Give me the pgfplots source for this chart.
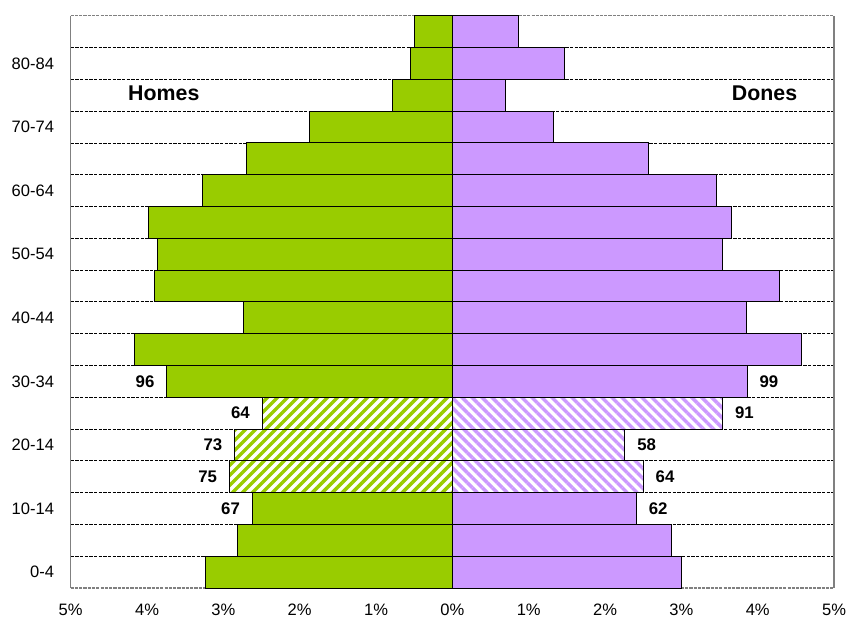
\documentclass[border=0pt]{standalone}
\usepackage{pgfplots}
\pgfplotsset{compat=1.18}
\usepackage{pgfplotstable}
\usepackage{fontspec}
\setmainfont{Liberation Sans}
\usetikzlibrary{patterns.meta}

\definecolor{menc}{HTML}{99CC00}
\definecolor{womc}{HTML}{CC99FF}

% y = age group index (0 = 0-4, ..., 17 = 85+), x = % of population
\pgfplotstableread{
y x lab
0 -3.23 {}
1 -2.81 {}
2 -2.62 67
6 -3.74 96
7 -4.17 {}
8 -2.74 {}
9 -3.90 {}
10 -3.86 {}
11 -3.98 {}
12 -3.27 {}
13 -2.70 {}
14 -1.87 {}
15 -0.79 {}
16 -0.55 {}
17 -0.50 {}
}\menSolid
\pgfplotstableread{
y x lab
3 -2.92 75
4 -2.85 73
5 -2.49 64
}\menHatch
\pgfplotstableread{
y x lab
0 3.00 {}
1 2.87 {}
2 2.41 62
6 3.86 99
7 4.57 {}
8 3.85 {}
9 4.28 {}
10 3.54 {}
11 3.65 {}
12 3.46 {}
13 2.57 {}
14 1.33 {}
15 0.69 {}
16 1.47 {}
17 0.86 {}
}\womSolid
\pgfplotstableread{
y x lab
3 2.50 64
4 2.26 58
5 3.54 91
}\womHatch

\begin{document}
\begin{tikzpicture}
\path[use as bounding box] (-53pt,-27.75pt) rectangle (582.2pt,441pt);
\begin{axis}[
    at={(0,0)}, anchor=south west,
    scale only axis,
    width=572.5pt, height=429.2pt,
    xmin=-5, xmax=5, ymin=-0.5, ymax=17.5,
    xtick={-5,...,5},
    xticklabels={5\%,4\%,3\%,2\%,1\%,0\%,1\%,2\%,3\%,4\%,5\%},
    ytick={0,2,...,16},
    yticklabels={0-4,10-14,20-14,30-34,40-44,50-54,60-64,70-74,80-84},
    minor ytick={0.5,1.5,...,16.5},
    yminorgrids=true,
    minor grid style={black, line width=0.6pt, dash pattern=on 2.4pt off 1.1pt},
    major tick length=0pt, minor tick length=0pt,
    separate axis lines,
    x axis line style={gray, line width=0.9pt, dash pattern=on 2.4pt off 0.8pt},
    y axis line style={gray, line width=0.9pt},
    tick label style={font=\fontsize{12.4}{14}\selectfont},
    xticklabel style={yshift=-8.5pt},
    yticklabel style={xshift=-9pt},
    every axis plot/.append style={xbar, bar width=1, bar shift=0pt,
        draw=black, line width=0.7pt},
    point meta=explicit symbolic,
    nodes near coords,
    nodes near coords style={font=\fontsize{12.6}{14}\bfseries, inner sep=0pt},
    clip=false,
]
\addplot[fill=menc,
    every node near coord/.append style={anchor=east, xshift=-9pt}]
    table[x=x, y=y, meta=lab] {\menSolid};
\addplot[pattern={Lines[angle=45, distance=5.3pt, line width=2.6pt]}, pattern color=menc,
    every node near coord/.append style={anchor=east, xshift=-9pt}]
    table[x=x, y=y, meta=lab] {\menHatch};
\addplot[fill=womc,
    every node near coord/.append style={anchor=west, xshift=9pt}]
    table[x=x, y=y, meta=lab] {\womSolid};
\addplot[pattern={Lines[angle=-45, distance=5.3pt, line width=2.6pt]}, pattern color=womc,
    every node near coord/.append style={anchor=west, xshift=9pt}]
    table[x=x, y=y, meta=lab] {\womHatch};
\draw[black, line width=1.3pt] (axis cs:0,-0.5) -- (axis cs:0,17.5);
\node[font=\fontsize{16}{18}\bfseries] at (axis cs:-3.78,15.05) {Homes};
\node[font=\fontsize{16}{18}\bfseries] at (axis cs:4.09,15.05) {Dones};
\end{axis}
\end{tikzpicture}
\end{document}
